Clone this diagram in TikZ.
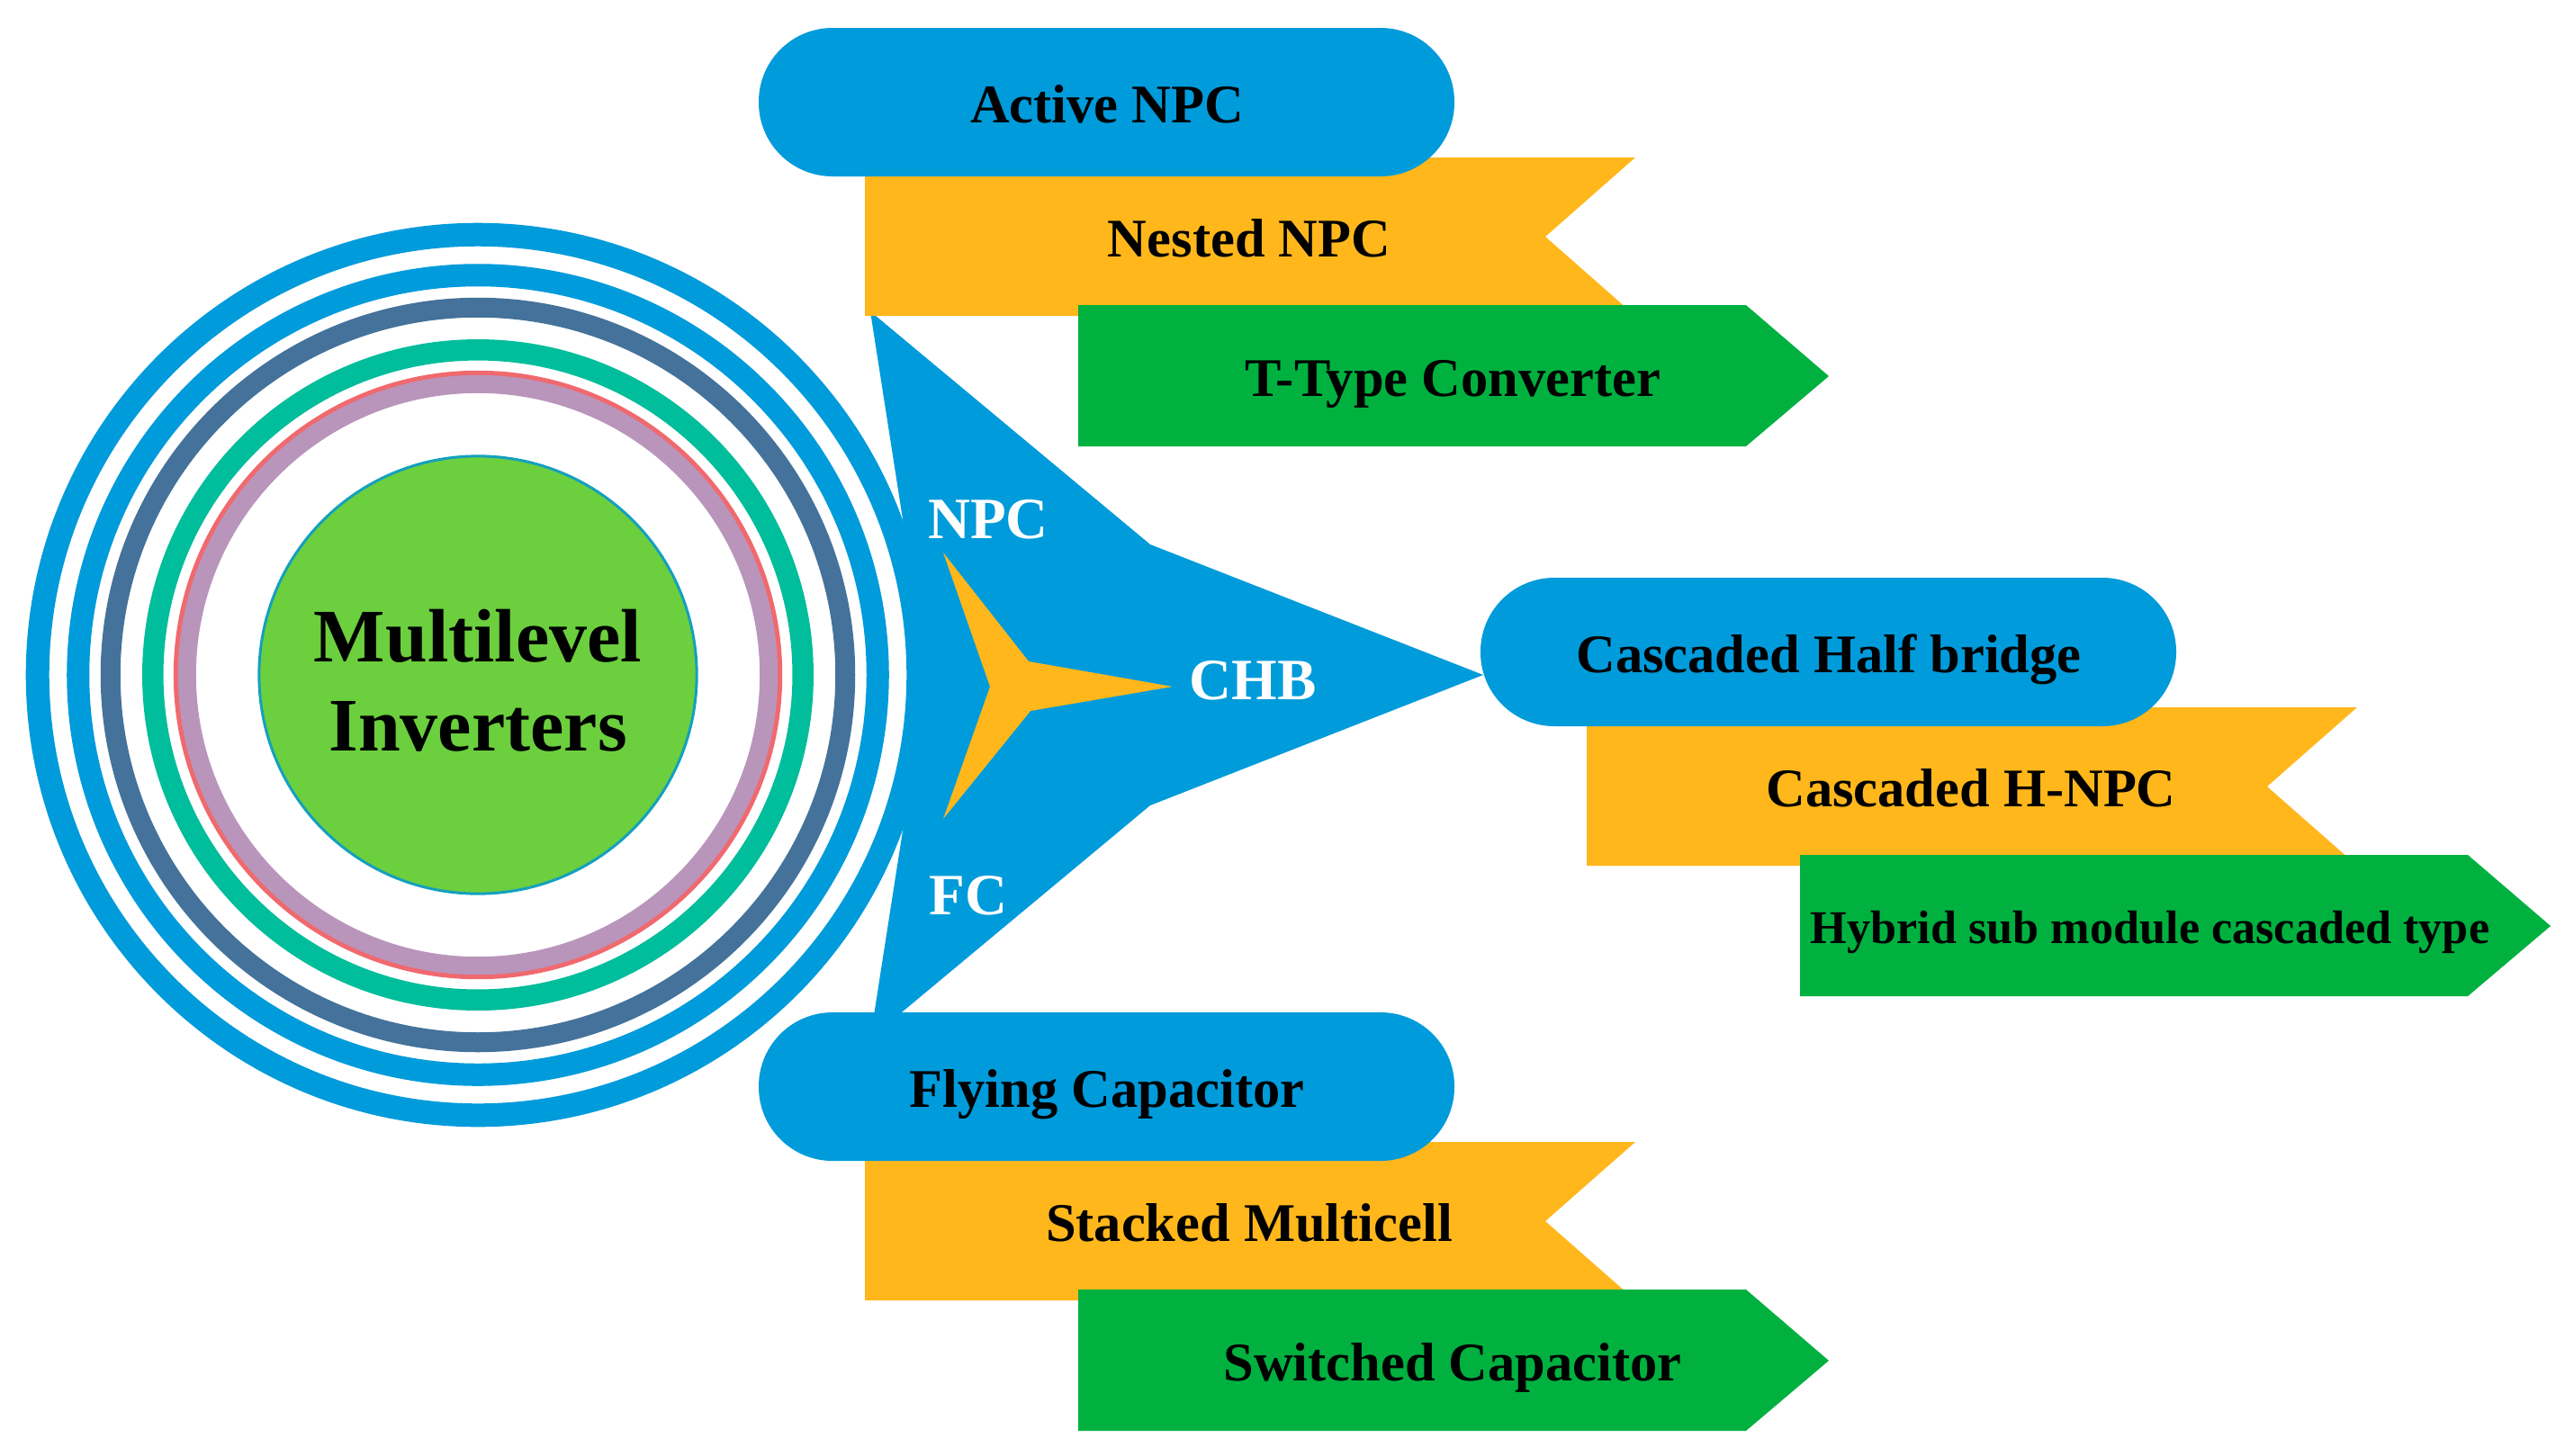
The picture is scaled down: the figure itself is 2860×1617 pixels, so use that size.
\documentclass[tikz,border=0pt]{standalone}
\usepackage{fontspec}
\setmainfont{Liberation Serif}
\definecolor{cblue}{RGB}{0,155,219}
\definecolor{corange}{RGB}{255,183,28}
\definecolor{cgreen}{RGB}{0,177,64}
\definecolor{cdisk}{RGB}{108,207,62}
\definecolor{cdiskline}{RGB}{20,160,190}
\definecolor{cslate}{RGB}{68,114,154}
\definecolor{cteal}{RGB}{0,189,155}
\definecolor{cmauve}{RGB}{185,149,187}
\definecolor{cred}{RGB}{240,105,110}
\begin{document}
\begin{tikzpicture}[x=0.01cm,y=-0.01cm,
  lbl/.style={font=\bfseries\fontsize{17.2}{20}\selectfont, text=black, anchor=base, inner sep=0pt},
  smalllbl/.style={font=\bfseries\fontsize{14.85}{18}\selectfont, text=black, anchor=base, inner sep=0pt},
  wlbl/.style={font=\bfseries\fontsize{18.5}{22}\selectfont, text=white, anchor=base, inner sep=0pt},
  biglbl/.style={font=\bfseries\fontsize{23.9}{28}\selectfont, text=black, anchor=base, inner sep=0pt},
  pill/.style={fill=cblue, rounded corners=0.82cm},
  notchband/.style={fill=corange},
  arrowband/.style={fill=cgreen},
  ring/.style={draw=#1}
]
\useasboundingbox (0,0) rectangle (2860,1617);
\fill[white] (0,0) rectangle (2860,1617);

% central blue three-pointed star
\fill[cblue] (967,346) -- (1278,605) -- (1648,750) -- (1278,895) -- (967,1154) -- (1030,750) -- cycle;
\fill[corange] (1048,614) -- (1143,735) -- (1303,763) -- (1145,790) -- (1048,910) -- (1100,763) -- cycle;

% concentric rings
\coordinate (c) at (531,750);
\draw[ring=cblue, line width=0.26cm] (c) circle[radius=4.89cm];
\draw[ring=cblue, line width=0.25cm] (c) circle[radius=4.44cm];
\draw[ring=cslate, line width=0.22cm] (c) circle[radius=4.08cm];
\draw[ring=cteal, line width=0.235cm] (c) circle[radius=3.61cm];
\draw[ring=cred, line width=0.06cm] (c) circle[radius=3.35cm];
\draw[ring=cmauve, line width=0.20cm] (c) circle[radius=3.23cm];
\fill[cdisk, draw=cdiskline, line width=0.03cm] (c) circle[radius=2.43cm];

% top group
\begin{scope}[shift={(0,0)}]
\path[notchband] (961,175) -- (1817,175) -- (1717,263) -- (1817,351) -- (961,351) -- cycle;
\path[arrowband] (1198,339) -- (1940,339) -- (2032,418) -- (1940,496) -- (1198,496) -- cycle;
\path[pill] (843,31) rectangle (1616,196);
\end{scope}
% middle group
\begin{scope}[shift={(802,611)}]
\path[notchband] (961,175) -- (1817,175) -- (1717,263) -- (1817,351) -- (961,351) -- cycle;
\path[arrowband] (1198,339) -- (1940,339) -- (2032,418) -- (1940,496) -- (1198,496) -- cycle;
\path[pill] (843,31) rectangle (1616,196);
\end{scope}
% bottom group
\begin{scope}[shift={(0,1094)}]
\path[notchband] (961,175) -- (1817,175) -- (1717,263) -- (1817,351) -- (961,351) -- cycle;
\path[arrowband] (1198,339) -- (1940,339) -- (2032,418) -- (1940,496) -- (1198,496) -- cycle;
\path[pill] (843,31) rectangle (1616,196);
\end{scope}

% texts
\node[biglbl] (ml1) at (531,735) {Multilevel};
\node[biglbl] (ml2) at (531,834) {Inverters};
\node[wlbl] (npc) at (1098,598) {NPC};
\node[wlbl] (chb) at (1392,777) {CHB};
\node[wlbl] (fc) at (1076,1016) {FC};

\node[lbl] (anpc) at (1230,136) {Active NPC};
\node[lbl] (nnpc) at (1388,285) {Nested NPC};
\node[lbl] (ttype) at (1614,440) {T-Type Converter};

\node[lbl] (chalf) at (2032,747) {Cascaded Half bridge};
\node[lbl] (chnpc) at (2190,896) {Cascaded H-NPC};
\node[smalllbl] (hybrid) at (2389,1048) {Hybrid sub module cascaded type};

\node[lbl] (flying) at (1230,1230) {Flying Capacitor};
\node[lbl] (stacked) at (1388,1379) {Stacked Multicell};
\node[lbl] (switched) at (1614,1534) {Switched Capacitor};
\end{tikzpicture}
\end{document}
